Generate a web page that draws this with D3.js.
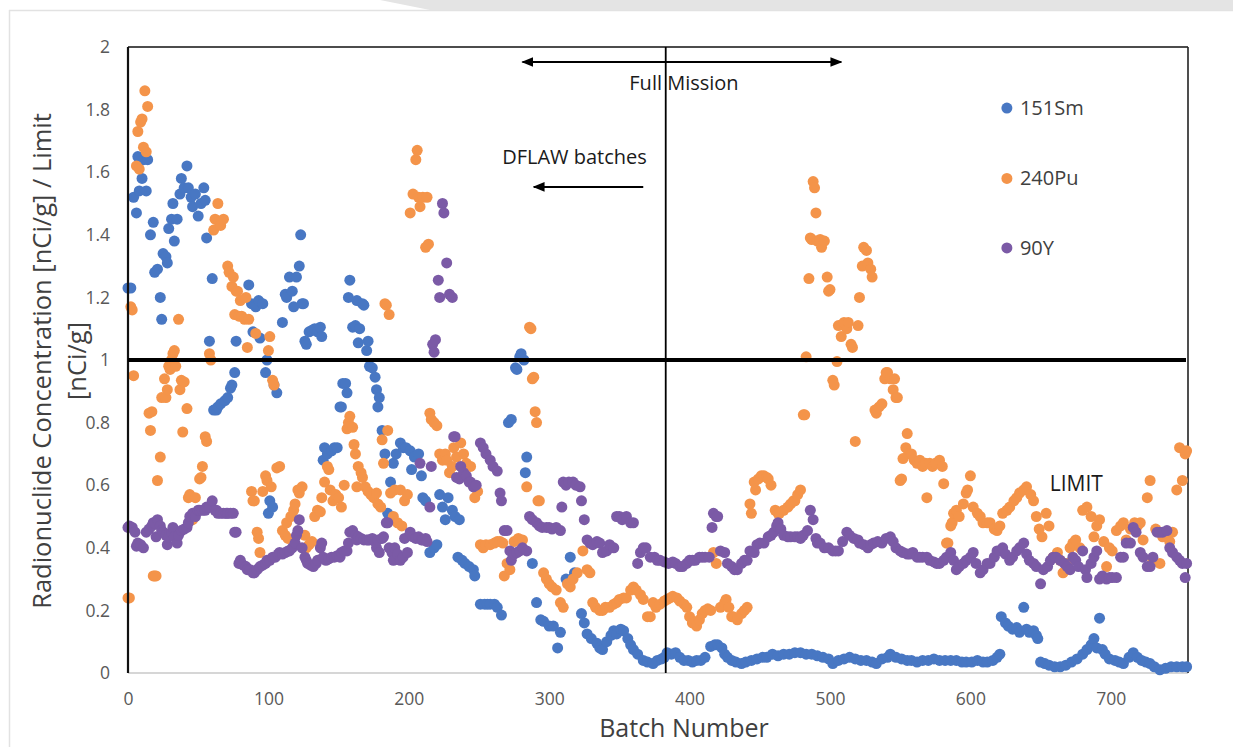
<!DOCTYPE html>
<html><head><meta charset="utf-8">
<script src="https://cdn.jsdelivr.net/npm/d3@7"></script>
<style>
body{margin:0;background:#fff}
svg{display:block}
text{font-family:"Open Sans","Noto Sans","Liberation Sans",sans-serif}
</style>
</head><body>
<svg id="chart" width="1233" height="747"></svg>
<script>
const seriesNames = ["151Sm", "240Pu", "90Y"];
const seriesColors = ["#4877c3", "#f4944a", "#7b5aa6"];
const xTicks = [0, 100, 200, 300, 400, 500, 600, 700];
const yTicks = [0, 0.2, 0.4, 0.6, 0.8, 1, 1.2, 1.4, 1.6, 1.8, 2];
const xTitle = "Batch Number";
const yTitle = ["Radionuclide Concentration [nCi/g] / Limit", "[nCi/g]"];
const limitValue = 1;
const dflawEndBatch = 383;
const fullMissionSpan = [281, 508];
const dflawArrowSpan = [367, 289];

const sm151 = [[0,1.23],[2,1.23],[4,1.52],[6,1.47],[7,1.65],[8,1.54],[10,1.58],[11,1.64],[13,1.54],[14,1.64],[16,1.40],[18,1.44],[19,1.28],[21,1.29],[23,1.20],[24,1.13],[25,1.34],[27,1.33],[28,1.31],[29,1.42],[31,1.45],[32,1.50],[33,1.38],[35,1.45],[37,1.53],[38,1.58],[40,1.55],[42,1.62],[43,1.55],[45,1.52],[46,1.49],[48,1.53],[50,1.46],[52,1.50],[54,1.55],[55,1.51],[56,1.39],[58,1.06],[60,1.26],[61,0.84],[63,0.84],[64,0.85],[66,0.86],[69,0.87],[71,0.88],[73,0.91],[74,0.92],[76,0.96],[77,1.06],[86,1.24],[88,1.18],[89,1.09],[91,1.17],[93,1.19],[94,1.07],[96,1.18],[98,0.96],[99,1.00],[100,0.51],[101,0.55],[103,0.53],[104,0.92],[106,0.895],[110,1.12],[112,1.21],[113,1.20],[115,1.265],[117,1.22],[118,1.17],[120,1.265],[122,1.30],[123,1.40],[124,1.18],[125,1.18],[126,1.06],[127,1.05],[129,1.09],[131,1.095],[133,1.10],[135,1.09],[137,1.105],[138,1.075],[139,0.68],[140,0.72],[142,0.70],[145,0.71],[147,0.72],[149,0.72],[151,0.85],[152,0.85],[153,0.925],[155,0.925],[156,0.895],[157,1.20],[158,1.255],[160,1.105],[162,1.11],[163,1.19],[164,1.055],[165,1.10],[167,1.18],[168,1.175],[170,1.03],[171,1.06],[172,0.98],[174,0.975],[176,0.945],[177,0.905],[178,0.85],[179,0.88],[181,0.775],[183,0.70],[185,0.51],[187,0.61],[189,0.67],[191,0.70],[194,0.735],[196,0.72],[198,0.72],[201,0.71],[202,0.65],[204,0.69],[207,0.70],[209,0.63],[210,0.56],[212,0.55],[215,0.385],[218,0.40],[220,0.41],[222,0.57],[224,0.53],[226,0.49],[228,0.56],[231,0.52],[233,0.50],[235,0.37],[236,0.49],[238,0.36],[240,0.35],[243,0.34],[246,0.33],[247,0.31],[251,0.22],[254,0.22],[256,0.22],[258,0.22],[261,0.22],[263,0.21],[266,0.185],[271,0.80],[273,0.81],[276,0.975],[277,0.97],[279,1.01],[280,1.02],[282,1.00],[283,0.64],[284,0.69],[288,0.35],[291,0.225],[294,0.17],[296,0.165],[300,0.15],[303,0.15],[306,0.08],[308,0.13],[312,0.30],[315,0.37],[316,0.30],[318,0.32],[323,0.19],[325,0.16],[327,0.125],[330,0.11],[334,0.095],[336,0.08],[338,0.075],[341,0.10],[344,0.12],[346,0.135],[348,0.125],[351,0.14],[353,0.135],[356,0.11],[358,0.09],[360,0.075],[363,0.06],[367,0.04],[370,0.035],[374,0.03],[377,0.04],[380,0.045],[382,0.05],[384,0.065],[387,0.06],[390,0.065],[393,0.05],[396,0.04],[399,0.04],[402,0.035],[405,0.04],[408,0.04],[411,0.05],[415,0.085],[418,0.09],[420,0.09],[423,0.08],[425,0.06],[427,0.05],[430,0.04],[433,0.035],[437,0.03],[440,0.035],[444,0.04],[448,0.045],[452,0.05],[455,0.05],[459,0.06],[463,0.055],[467,0.06],[471,0.06],[475,0.065],[479,0.065],[483,0.06],[487,0.06],[491,0.055],[495,0.05],[499,0.045],[502,0.03],[506,0.04],[510,0.045],[514,0.05],[518,0.045],[522,0.04],[526,0.04],[530,0.035],[533,0.03],[537,0.045],[541,0.05],[543,0.06],[547,0.05],[551,0.045],[555,0.04],[558,0.04],[562,0.035],[566,0.04],[570,0.04],[574,0.045],[578,0.04],[582,0.04],[586,0.04],[590,0.04],[594,0.035],[597,0.035],[601,0.035],[605,0.04],[609,0.035],[612,0.035],[616,0.04],[619,0.05],[621,0.06],[622,0.18],[625,0.16],[627,0.15],[630,0.14],[633,0.145],[635,0.13],[638,0.21],[640,0.14],[642,0.13],[645,0.135],[647,0.12],[648,0.11],[650,0.035],[653,0.03],[656,0.025],[660,0.02],[664,0.02],[668,0.025],[672,0.035],[676,0.045],[680,0.06],[683,0.075],[686,0.09],[688,0.11],[690,0.08],[692,0.175],[694,0.075],[696,0.06],[699,0.045],[703,0.04],[706,0.035],[709,0.03],[713,0.05],[716,0.065],[719,0.05],[722,0.04],[725,0.035],[728,0.03],[731,0.02],[735,0.01],[739,0.015],[743,0.02],[747,0.02],[751,0.02],[754,0.02]];

const pu240 = [[0,0.24],[1,0.24],[2,1.17],[3,1.16],[4,0.95],[6,1.62],[7,1.73],[8,1.61],[9,1.76],[10,1.77],[11,1.68],[12,1.86],[13,1.665],[14,1.81],[15,0.83],[16,0.775],[17,0.835],[18,0.31],[19,0.31],[20,0.31],[21,0.615],[23,0.69],[24,0.88],[26,0.94],[27,0.88],[28,0.905],[29,0.98],[30,0.97],[31,1.0],[32,1.02],[33,1.03],[34,0.98],[36,1.13],[37,0.905],[38,0.935],[39,0.77],[40,0.93],[42,0.845],[43,0.56],[44,0.57],[46,0.49],[48,0.56],[51,0.62],[52,0.625],[53,0.66],[55,0.755],[56,0.74],[58,1.02],[59,1.00],[61,1.415],[62,1.45],[64,1.50],[65,1.44],[66,1.43],[68,1.45],[71,1.30],[72,1.28],[74,1.235],[75,1.265],[76,1.145],[77,1.22],[78,1.22],[79,1.14],[80,1.19],[81,1.14],[83,1.13],[84,1.20],[85,1.04],[86,1.13],[88,0.58],[89,0.55],[90,0.55],[91,1.085],[92,0.45],[93,0.43],[94,0.385],[96,0.58],[98,0.63],[99,0.615],[100,1.03],[101,1.075],[102,0.595],[103,0.935],[104,0.92],[106,0.655],[108,0.66],[110,0.455],[112,0.44],[113,0.48],[114,0.43],[116,0.50],[118,0.52],[119,0.54],[121,0.585],[122,0.575],[124,0.595],[126,0.44],[127,0.40],[129,0.41],[131,0.42],[133,0.50],[135,0.52],[137,0.515],[138,0.56],[140,0.61],[142,0.66],[143,0.65],[144,0.585],[146,0.55],[148,0.57],[150,0.56],[152,0.53],[154,0.60],[156,0.78],[157,0.80],[158,0.82],[160,0.785],[161,0.73],[162,0.70],[163,0.595],[164,0.66],[166,0.64],[167,0.625],[169,0.595],[171,0.58],[173,0.57],[175,0.56],[177,0.575],[178,0.54],[180,0.53],[181,0.745],[182,0.67],[183,1.18],[184,1.175],[185,0.775],[186,1.145],[187,0.575],[189,0.50],[190,0.585],[192,0.48],[194,0.585],[195,0.47],[197,0.55],[199,0.57],[201,1.47],[203,1.53],[205,1.64],[206,1.67],[207,1.52],[208,1.49],[210,1.52],[212,1.36],[213,1.52],[214,1.37],[215,0.83],[216,0.81],[218,0.80],[220,0.79],[222,0.70],[224,0.68],[226,0.70],[227,0.68],[229,0.64],[231,0.66],[232,0.72],[234,0.69],[237,0.735],[239,0.70],[241,0.67],[244,0.66],[247,0.56],[249,0.58],[251,0.41],[253,0.40],[255,0.41],[258,0.41],[261,0.415],[263,0.42],[265,0.42],[267,0.415],[268,0.31],[270,0.35],[272,0.33],[275,0.42],[278,0.43],[281,0.425],[284,0.595],[286,1.105],[287,1.10],[288,0.94],[289,0.945],[290,0.835],[291,0.80],[292,0.55],[293,0.55],[296,0.32],[298,0.30],[300,0.285],[302,0.275],[305,0.265],[308,0.225],[310,0.21],[313,0.285],[315,0.275],[317,0.30],[320,0.32],[324,0.39],[327,0.33],[329,0.32],[331,0.225],[333,0.21],[336,0.20],[338,0.20],[340,0.21],[343,0.21],[346,0.22],[348,0.225],[350,0.235],[353,0.24],[355,0.24],[358,0.265],[360,0.275],[362,0.265],[365,0.25],[367,0.235],[370,0.18],[372,0.18],[374,0.225],[376,0.21],[379,0.22],[382,0.23],[384,0.235],[386,0.24],[388,0.245],[391,0.24],[393,0.23],[396,0.22],[398,0.21],[400,0.18],[402,0.16],[405,0.15],[407,0.17],[409,0.19],[411,0.20],[413,0.205],[415,0.20],[417,0.385],[419,0.35],[422,0.21],[425,0.225],[426,0.235],[428,0.21],[430,0.18],[431,0.18],[434,0.17],[437,0.19],[439,0.20],[441,0.21],[443,0.54],[444,0.51],[446,0.61],[447,0.585],[449,0.62],[451,0.63],[453,0.63],[455,0.625],[456,0.62],[458,0.60],[461,0.52],[463,0.51],[464,0.51],[467,0.52],[470,0.53],[472,0.54],[474,0.55],[475,0.55],[477,0.57],[479,0.585],[481,0.825],[482,0.825],[483,1.01],[485,1.26],[486,1.39],[487,1.385],[488,1.57],[489,1.55],[490,1.47],[491,1.38],[493,1.385],[494,1.36],[496,1.38],[498,1.265],[499,1.22],[500,1.225],[502,0.935],[503,0.92],[505,0.995],[506,1.11],[508,1.075],[510,1.12],[512,1.10],[513,1.12],[515,1.05],[516,1.04],[518,0.74],[520,1.11],[521,1.20],[523,1.30],[524,1.36],[526,1.35],[527,1.31],[529,1.29],[530,1.265],[532,0.84],[533,0.83],[535,0.85],[537,0.86],[539,0.94],[540,0.96],[541,0.96],[543,0.94],[545,0.905],[546,0.94],[547,0.88],[548,0.88],[550,0.615],[551,0.62],[552,0.685],[554,0.72],[555,0.765],[556,0.70],[558,0.70],[560,0.68],[562,0.67],[564,0.68],[566,0.66],[568,0.67],[569,0.56],[571,0.67],[573,0.66],[575,0.67],[578,0.68],[580,0.66],[581,0.605],[583,0.415],[584,0.415],[586,0.47],[587,0.48],[588,0.51],[590,0.52],[592,0.50],[595,0.54],[597,0.575],[598,0.585],[600,0.63],[602,0.53],[605,0.51],[607,0.50],[609,0.48],[612,0.48],[614,0.48],[617,0.46],[619,0.455],[621,0.47],[623,0.51],[626,0.52],[628,0.53],[631,0.55],[633,0.56],[635,0.575],[638,0.585],[640,0.595],[643,0.57],[645,0.55],[647,0.50],[649,0.46],[651,0.435],[654,0.51],[656,0.47],[659,0.37],[662,0.385],[664,0.36],[666,0.32],[669,0.35],[671,0.40],[673,0.415],[675,0.425],[678,0.40],[680,0.52],[683,0.53],[686,0.50],[688,0.435],[690,0.47],[692,0.49],[695,0.42],[697,0.34],[699,0.40],[701,0.39],[704,0.455],[707,0.47],[709,0.48],[711,0.425],[714,0.46],[717,0.48],[719,0.47],[721,0.48],[723,0.425],[726,0.56],[728,0.615],[730,0.36],[732,0.46],[735,0.35],[737,0.435],[740,0.44],[742,0.42],[744,0.45],[747,0.585],[749,0.72],[751,0.615],[753,0.70],[754,0.71]];

const y90 = [[0,0.465],[1,0.47],[3,0.465],[5,0.45],[6,0.405],[7,0.415],[9,0.41],[11,0.40],[13,0.45],[15,0.46],[17,0.47],[18,0.48],[19,0.48],[20,0.435],[21,0.49],[23,0.47],[24,0.455],[25,0.45],[27,0.44],[28,0.41],[29,0.435],[31,0.45],[32,0.465],[33,0.435],[35,0.415],[36,0.44],[38,0.455],[40,0.46],[42,0.465],[43,0.48],[44,0.50],[46,0.51],[48,0.50],[50,0.52],[51,0.52],[53,0.52],[55,0.52],[56,0.53],[58,0.53],[60,0.55],[62,0.52],[63,0.52],[64,0.51],[66,0.51],[68,0.51],[70,0.51],[71,0.51],[73,0.51],[75,0.51],[76,0.45],[77,0.45],[79,0.35],[80,0.36],[82,0.345],[84,0.34],[85,0.33],[87,0.33],[89,0.32],[90,0.32],[92,0.33],[94,0.34],[96,0.345],[98,0.35],[99,0.36],[101,0.36],[103,0.37],[105,0.37],[107,0.38],[108,0.385],[110,0.38],[112,0.385],[114,0.39],[115,0.39],[117,0.40],[119,0.415],[120,0.44],[121,0.455],[122,0.49],[124,0.40],[126,0.37],[127,0.36],[128,0.35],[130,0.345],[132,0.34],[134,0.35],[135,0.36],[137,0.40],[138,0.415],[139,0.37],[141,0.36],[143,0.365],[145,0.37],[147,0.37],[149,0.375],[151,0.37],[152,0.385],[154,0.39],[156,0.39],[157,0.415],[158,0.45],[160,0.455],[162,0.44],[163,0.425],[164,0.435],[166,0.43],[168,0.425],[170,0.425],[171,0.425],[172,0.425],[174,0.43],[176,0.42],[177,0.40],[178,0.425],[179,0.385],[181,0.43],[182,0.435],[184,0.48],[185,0.48],[186,0.40],[188,0.385],[189,0.36],[190,0.40],[192,0.38],[194,0.36],[196,0.37],[197,0.43],[199,0.385],[201,0.45],[203,0.435],[205,0.43],[207,0.435],[208,0.67],[209,0.425],[210,0.425],[212,0.43],[213,0.42],[215,0.53],[216,0.66],[217,1.05],[218,1.025],[219,1.065],[221,1.255],[222,1.20],[224,1.50],[225,1.47],[227,1.31],[229,1.21],[231,1.20],[232,0.755],[233,0.755],[234,0.625],[236,0.62],[237,0.66],[239,0.64],[241,0.63],[243,0.61],[244,0.61],[246,0.595],[248,0.60],[251,0.735],[253,0.72],[255,0.70],[258,0.68],[260,0.66],[263,0.645],[265,0.575],[266,0.55],[268,0.455],[270,0.455],[272,0.39],[273,0.36],[275,0.38],[277,0.385],[279,0.39],[281,0.40],[284,0.39],[286,0.50],[288,0.49],[291,0.48],[293,0.47],[295,0.465],[298,0.465],[300,0.465],[302,0.46],[305,0.465],[308,0.455],[309,0.53],[310,0.61],[312,0.60],[314,0.61],[317,0.61],[319,0.60],[322,0.595],[323,0.55],[325,0.49],[327,0.425],[329,0.415],[331,0.41],[334,0.42],[336,0.415],[338,0.385],[341,0.39],[343,0.41],[346,0.40],[348,0.50],[350,0.50],[352,0.49],[355,0.50],[358,0.48],[360,0.48],[363,0.35],[365,0.385],[367,0.40],[369,0.40],[372,0.37],[375,0.37],[377,0.36],[379,0.36],[382,0.355],[385,0.35],[388,0.355],[390,0.35],[393,0.34],[395,0.34],[398,0.35],[400,0.36],[402,0.36],[404,0.36],[407,0.37],[409,0.37],[411,0.37],[414,0.37],[416,0.465],[417,0.51],[419,0.50],[420,0.50],[422,0.39],[425,0.385],[427,0.35],[430,0.34],[432,0.33],[434,0.33],[437,0.35],[439,0.36],[441,0.36],[443,0.39],[446,0.385],[448,0.41],[450,0.415],[453,0.415],[456,0.435],[458,0.44],[460,0.45],[462,0.47],[463,0.48],[465,0.46],[467,0.44],[470,0.435],[472,0.435],[475,0.435],[477,0.435],[479,0.43],[481,0.44],[484,0.455],[486,0.52],[488,0.49],[490,0.43],[491,0.415],[493,0.415],[496,0.40],[499,0.40],[502,0.39],[504,0.39],[506,0.39],[509,0.42],[512,0.45],[514,0.44],[517,0.43],[520,0.425],[521,0.415],[524,0.41],[527,0.40],[529,0.41],[531,0.415],[534,0.42],[537,0.415],[540,0.43],[543,0.435],[545,0.42],[547,0.40],[550,0.39],[552,0.385],[555,0.38],[557,0.38],[559,0.385],[562,0.37],[564,0.37],[566,0.37],[569,0.37],[571,0.36],[574,0.355],[576,0.35],[578,0.35],[581,0.36],[583,0.37],[586,0.385],[588,0.36],[590,0.33],[592,0.34],[595,0.35],[597,0.36],[600,0.37],[602,0.385],[604,0.35],[607,0.32],[609,0.33],[612,0.35],[614,0.35],[617,0.37],[619,0.39],[621,0.39],[623,0.40],[625,0.38],[628,0.36],[630,0.37],[633,0.39],[635,0.40],[638,0.415],[640,0.38],[642,0.36],[645,0.35],[647,0.34],[650,0.285],[652,0.33],[655,0.34],[657,0.36],[659,0.37],[661,0.37],[664,0.36],[667,0.35],[669,0.34],[671,0.33],[673,0.37],[675,0.36],[677,0.34],[680,0.39],[682,0.33],[683,0.305],[686,0.35],[688,0.37],[690,0.39],[692,0.30],[694,0.31],[697,0.30],[699,0.305],[701,0.305],[704,0.305],[707,0.37],[709,0.37],[711,0.415],[714,0.415],[716,0.465],[718,0.45],[721,0.385],[723,0.37],[726,0.34],[728,0.34],[730,0.37],[733,0.45],[735,0.45],[737,0.45],[740,0.455],[742,0.40],[744,0.385],[747,0.37],[749,0.36],[751,0.35],[753,0.305],[754,0.35]];

const allSeries = [sm151, pu240, y90];

const svg = d3.select("#chart");
const W = 1233, H = 747;
const m = {left: 128, right: 1188, top: 47, bottom: 673};
const x = d3.scaleLinear().domain([0, 755]).range([m.left, m.right]);
const y = d3.scaleLinear().domain([0, 2]).range([m.bottom, m.top]);
const FONT = "'Open Sans','Noto Sans',sans-serif";

// page frame
svg.append("rect").attr("x",0).attr("y",0).attr("width",W).attr("height",H).attr("fill","#fff");
svg.append("path").attr("d","M380,0 L1233,0 L1233,10 L430,10 Z").attr("fill","#e4e4e4");
svg.append("line").attr("x1",9).attr("x2",W).attr("y1",10.5).attr("y2",10.5).attr("stroke","#e2e2e2").attr("stroke-width",1.5);
svg.append("line").attr("x1",9.5).attr("x2",9.5).attr("y1",10).attr("y2",H).attr("stroke","#e2e2e2").attr("stroke-width",1.5);

// axes
const gx = svg.append("g").attr("transform", `translate(0,${m.bottom})`)
  .call(d3.axisBottom(x).tickValues(xTicks).tickSize(0).tickPadding(20).tickFormat(d3.format("d")));
gx.select(".domain").remove();
gx.selectAll("text").attr("font-size",17.5).attr("fill","#595959").style("font-family",FONT);

const gy = svg.append("g").attr("transform", `translate(${m.left},0)`)
  .call(d3.axisLeft(y).tickValues(yTicks).tickSize(0).tickPadding(18).tickFormat(d => String(+d.toFixed(1))));
gy.select(".domain").remove();
gy.selectAll("text").attr("font-size",17.5).attr("fill","#595959").style("font-family",FONT);

// plot frame
svg.append("line").attr("x1",m.left).attr("x2",m.right).attr("y1",m.bottom).attr("y2",m.bottom).attr("stroke","#c8c8c8").attr("stroke-width",1.5);
svg.append("line").attr("x1",m.left).attr("x2",m.right).attr("y1",m.top).attr("y2",m.top).attr("stroke","#111").attr("stroke-width",1.6);
svg.append("line").attr("x1",m.right).attr("x2",m.right).attr("y1",m.top).attr("y2",m.bottom).attr("stroke","#222").attr("stroke-width",1.6);

// points
allSeries.forEach((s, i) => {
  svg.append("g").selectAll("circle").data(s).join("circle")
    .attr("cx", d => x(d[0])).attr("cy", d => y(d[1])).attr("r", 5.5)
    .attr("fill", seriesColors[i]);
});

// left axis line
svg.append("line").attr("x1",m.left).attr("x2",m.left).attr("y1",m.top).attr("y2",m.bottom).attr("stroke","#111").attr("stroke-width",2.2);

// limit line
svg.append("line").attr("x1",x(0)).attr("x2",m.right-2).attr("y1",y(limitValue)).attr("y2",y(limitValue)).attr("stroke","#000").attr("stroke-width",4);

// DFLAW divider
svg.append("line").attr("x1",x(dflawEndBatch)).attr("x2",x(dflawEndBatch)).attr("y1",m.top).attr("y2",m.bottom).attr("stroke","#000").attr("stroke-width",1.8);

// arrowheads
const defs = svg.append("defs");
defs.append("marker").attr("id","ah").attr("viewBox","0 0 10 10").attr("refX",9).attr("refY",5)
  .attr("markerWidth",6).attr("markerHeight",6).attr("markerUnits","strokeWidth").attr("orient","auto-start-reverse")
  .append("path").attr("d","M0,1 L10,5 L0,9 Z").attr("fill","#000");

const fmY = y(1.952);
svg.append("line").attr("x1",x(fullMissionSpan[0])).attr("x2",x(fullMissionSpan[1])).attr("y1",fmY).attr("y2",fmY)
  .attr("stroke","#000").attr("stroke-width",2).attr("marker-start","url(#ah)").attr("marker-end","url(#ah)");
svg.append("text").attr("x",x(396)).attr("y",y(1.885)).attr("dy","0.35em").attr("text-anchor","middle")
  .attr("font-size",20).attr("fill","#1a1a1a").text("Full Mission");

svg.append("text").attr("x",x(318)).attr("y",y(1.649)).attr("dy","0.35em").attr("text-anchor","middle")
  .attr("font-size",20).attr("fill","#1a1a1a").text("DFLAW batches");
const dfY = y(1.553);
svg.append("line").attr("x1",x(dflawArrowSpan[0])).attr("x2",x(dflawArrowSpan[1])).attr("y1",dfY).attr("y2",dfY)
  .attr("stroke","#000").attr("stroke-width",2).attr("marker-end","url(#ah)");

svg.append("text").attr("x",x(656.5)).attr("y",y(0.604)).attr("dy","0.35em")
  .attr("font-size",21).attr("fill","#1a1a1a").text("LIMIT");

// legend
const legY = [1.805, 1.58, 1.358];
seriesNames.forEach((n, i) => {
  svg.append("circle").attr("cx",x(626)).attr("cy",y(legY[i])).attr("r",5.5).attr("fill",seriesColors[i]);
  svg.append("text").attr("x",x(626)+13).attr("y",y(legY[i])).attr("dy","0.35em")
    .attr("font-size",20).attr("fill","#404040").text(n);
});

// titles
svg.append("text").attr("x",684).attr("y",737).attr("text-anchor","middle")
  .attr("font-size",25).attr("fill","#404040").text(xTitle);
svg.append("text").attr("transform","translate(42,361) rotate(-90)").attr("dy","0.35em").attr("text-anchor","middle")
  .attr("font-size",25.5).attr("fill","#404040").text(yTitle[0]);
svg.append("text").attr("transform","translate(77,361) rotate(-90)").attr("dy","0.35em").attr("text-anchor","middle")
  .attr("font-size",25.5).attr("fill","#404040").text(yTitle[1]);
</script>
</body></html>
